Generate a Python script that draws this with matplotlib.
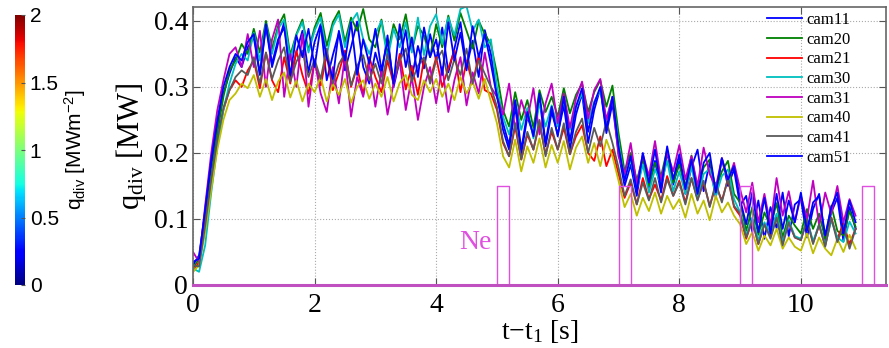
import matplotlib
matplotlib.use("Agg")
import matplotlib.pyplot as plt
import numpy as np
from matplotlib import cm
from matplotlib.colors import Normalize
from matplotlib.colorbar import ColorbarBase

plt.rcParams["font.family"] = ["Liberation Serif", "DejaVu Serif"]
plt.rcParams["mathtext.default"] = "regular"

SERIF = ["Liberation Serif", "DejaVu Serif"]
SANS = ["Liberation Sans", "DejaVu Sans"]

# time base of the divertor power traces [s]
t_s = np.round(np.arange(0, 110) * 0.1, 2)

# q_div per camera, in kW (one value per 0.1 s)
cam11 = [30, 45, 110, 180, 240, 290, 320, 345, 330, 360,
         375, 318, 392, 330, 366, 398, 312, 352, 385, 322,
         368, 395, 310, 348, 382, 325, 360, 399, 330, 305,
         352, 318, 378, 300, 340, 386, 314, 362, 328, 380,
         340, 390, 322, 358, 398, 330, 370, 315, 386, 350,
         290, 235, 205, 270, 198, 255, 228, 282, 210, 262,
         228, 272, 205, 258, 290, 215, 265, 298, 230, 275,
         200, 150, 182, 135, 195, 148, 188, 140, 202, 152,
         190, 138, 178, 205, 142, 186, 132, 192, 150, 175,
         120, 135, 80, 128, 70, 118, 86, 140, 74, 122,
         130, 72, 115, 138, 68, 110, 132, 66, 118, 85]
cam20 = [25, 40, 95, 165, 230, 285, 325, 340, 365, 350,
         388, 352, 400, 358, 392, 410, 348, 380, 402, 355,
         390, 412, 362, 398, 415, 368, 405, 385, 418, 372,
         360, 402, 350, 395, 372, 410, 355, 392, 378, 345,
         395, 360, 408, 370, 412, 385, 358, 400, 380, 365,
         320, 265, 240, 292, 250, 280, 238, 295, 262, 285,
         255, 298, 260, 288, 305, 262, 292, 310, 270, 302,
         230, 172, 200, 158, 192, 150, 185, 165, 205, 155,
         182, 150, 196, 142, 178, 190, 145, 172, 188, 138,
         125, 82, 118, 76, 110, 88, 124, 72, 105, 90,
         78, 115, 85, 108, 70, 120, 82, 75, 112, 88]
cam21 = [20, 35, 90, 155, 215, 265, 295, 310, 300, 325,
         340, 298, 352, 310, 292, 345, 305, 355, 318, 290,
         338, 302, 348, 295, 322, 355, 300, 330, 288, 345,
         315, 292, 340, 305, 350, 296, 332, 288, 342, 310,
         345, 300, 328, 355, 292, 340, 305, 348, 295, 290,
         265, 215, 195, 240, 190, 228, 205, 245, 198, 232,
         205, 238, 198, 225, 242, 200, 188, 225, 180, 205,
         168, 132, 155, 122, 162, 130, 152, 128, 165, 135,
         158, 125, 162, 130, 155, 120, 150, 128, 160, 118,
         105, 70, 98, 62, 92, 74, 102, 66, 95, 72,
         68, 98, 64, 90, 60, 102, 70, 94, 62, 85]
cam30 = [25, 20, 60, 140, 210, 265, 305, 335, 350, 340,
         382, 340, 395, 350, 388, 402, 342, 378, 398, 352,
         385, 405, 348, 392, 410, 360, 398, 412, 372, 350,
         380, 400, 342, 388, 360, 398, 352, 405, 348, 392,
         410, 365, 405, 378, 418, 422, 385, 402, 360, 372,
         300, 255, 228, 278, 235, 268, 222, 275, 240, 272,
         240, 280, 235, 270, 290, 245, 278, 295, 250, 285,
         215, 160, 190, 145, 182, 140, 175, 152, 188, 142,
         172, 138, 180, 132, 168, 176, 135, 165, 175, 130,
         110, 75, 102, 68, 95, 78, 108, 64, 98, 74,
         70, 100, 66, 92, 60, 98, 72, 65, 96, 78]
cam31 = [50, 35, 120, 200, 265, 310, 350, 360, 330, 380,
         330, 385, 300, 372, 402, 285, 350, 300, 380, 270,
         340, 290, 262, 330, 275, 348, 255, 315, 285, 335,
         270, 325, 258, 305, 340, 265, 315, 250, 300, 330,
         275, 330, 262, 310, 345, 272, 322, 290, 352, 300,
         285, 258, 305, 235, 280, 250, 298, 228, 275, 305,
         245, 290, 238, 282, 308, 252, 295, 312, 250, 285,
         195, 168, 215, 152, 198, 165, 218, 158, 200, 172,
         212, 160, 195, 150, 208, 168, 148, 192, 158, 185,
         145, 110, 155, 95, 138, 90, 162, 105, 142, 95,
         135, 100, 158, 90, 140, 108, 150, 95, 130, 105]
cam40 = [20, 30, 80, 145, 205, 250, 280, 290, 305, 298,
         318, 285, 312, 280, 308, 322, 284, 310, 278, 305,
         292, 315, 278, 305, 288, 312, 276, 300, 310, 282,
         305, 285, 315, 278, 306, 318, 288, 280, 310, 292,
         312, 285, 305, 280, 315, 290, 308, 282, 312, 278,
         245, 195, 178, 220, 172, 210, 185, 222, 178, 212,
         185, 218, 175, 208, 225, 185, 215, 180, 220, 195,
         158, 118, 138, 105, 132, 112, 140, 108, 135, 115,
         130, 102, 138, 108, 128, 98, 135, 110, 125, 105,
         92, 62, 80, 52, 75, 60, 85, 55, 72, 58,
         52, 78, 48, 72, 55, 45, 70, 50, 76, 55]
cam41 = [30, 28, 90, 160, 220, 268, 295, 315, 325, 318,
         345, 305, 352, 312, 340, 360, 308, 338, 355, 315,
         342, 312, 358, 305, 335, 350, 302, 332, 348, 310,
         335, 305, 350, 312, 340, 358, 308, 332, 345, 305,
         340, 355, 310, 342, 318, 358, 305, 340, 320, 300,
         270, 218, 195, 245, 190, 232, 205, 250, 195, 238,
         205, 245, 198, 232, 252, 200, 238, 210, 248, 215,
         178, 135, 160, 122, 155, 128, 162, 125, 160, 135,
         155, 122, 162, 128, 158, 118, 155, 125, 162, 120,
         108, 72, 98, 62, 92, 70, 102, 60, 95, 72,
         68, 100, 62, 92, 58, 102, 65, 90, 55, 85]
cam51 = [35, 40, 115, 190, 250, 300, 330, 350, 340, 368,
         380, 320, 395, 335, 372, 390, 318, 378, 345, 388,
         330, 392, 345, 312, 385, 340, 398, 318, 372, 335,
         388, 325, 370, 305, 395, 330, 375, 315, 390, 345,
         372, 318, 398, 340, 382, 325, 392, 345, 380, 335,
         285, 245, 212, 280, 205, 262, 225, 290, 215, 270,
         225, 285, 218, 270, 298, 232, 275, 300, 235, 285,
         210, 158, 195, 142, 200, 155, 205, 145, 210, 160,
         198, 145, 190, 138, 185, 200, 140, 192, 160, 180,
         130, 92, 140, 80, 132, 78, 138, 85, 128, 95,
         140, 82, 125, 135, 75, 118, 140, 78, 128, 95]

cam_names = ["cam11", "cam20", "cam21", "cam30", "cam31", "cam40", "cam41", "cam51"]
cam_data = [cam11, cam20, cam21, cam30, cam31, cam40, cam41, cam51]
cam_colors = ["#0000ff", "#008000", "#ff0000", "#00bfbf",
              "#bf00bf", "#bfbf00", "#5a5a5a", "#0000ff"]

# neon puffs: start times [s], duration [s], plotted height [a.u.]
ne_start = [5.0, 7.0, 9.0, 11.0]
ne_dur = 0.2
ne_height = 0.15
ne_color = "#e050e0"

cbar_ticks = [0, 0.5, 1, 1.5, 2]
cbar_labels = ["0", "0.5", "1", "1.5", "2"]

fig = plt.figure(figsize=(8.89, 3.48), dpi=100)
ax = fig.add_axes([193 / 889, 1 - 285 / 348, 693 / 889, 278 / 348])

for name, vals, col in zip(cam_names, cam_data, cam_colors):
    ax.plot(t_s, np.array(vals) / 1000.0, color=col, lw=1.3, label=name)

# neon valve trace as rectangular pulses on a zero baseline
ne_t = [0.0]
ne_v = [0.0]
for t0 in ne_start:
    ne_t += [t0, t0, t0 + ne_dur, t0 + ne_dur]
    ne_v += [0.0, ne_height, ne_height, 0.0]
ne_t.append(11.4)
ne_v.append(0.0)
ax.plot(ne_t, ne_v, color=ne_color, lw=1.0, zorder=5)
ax.plot([0, 11.4], [0, 0], color="#c050c0", lw=2.2, zorder=6, clip_on=False)
ax.text(4.64, 0.064, "Ne", color=ne_color, fontsize=20, ha="center", va="center",
        family=SERIF)

ax.set_xlim(0, 11.4)
ax.set_ylim(0, 0.421)
ax.set_xticks([0, 2, 4, 6, 8, 10])
ax.set_xticklabels(["0", "2", "4", "6", "8", "10"])
ax.set_yticks([0, 0.1, 0.2, 0.3, 0.4])
ax.set_yticklabels(["0", "0.1", "0.2", "0.3", "0.4"])
ax.tick_params(direction="in", length=5, labelsize=20, top=True, right=True,
               colors="#555555", labelcolor="black")
ax.tick_params(axis="x", pad=6)
for lab in ax.get_xticklabels() + ax.get_yticklabels():
    lab.set_family(SERIF)
ax.grid(True, linestyle=":", color="#aaaaaa", lw=0.8)
for sp in ax.spines.values():
    sp.set_color("#666666")
    sp.set_linewidth(1.2)

ax.set_xlabel("t$-$t$_1$ [s]", fontsize=20, labelpad=0, family=SERIF)
ax.set_ylabel("q$_{div}$ [MW]", fontsize=22, labelpad=4, family=SERIF)

ax.legend(loc="upper left", bbox_to_anchor=(0.828, 0.982), frameon=False,
          prop={"family": SERIF, "size": 12}, handlelength=2.1, handletextpad=0.3,
          labelspacing=0.22, borderpad=0, borderaxespad=0)

# colour scale for q_div
cax = fig.add_axes([15 / 889, 1 - 285 / 348, 10 / 889, 270 / 348])
cb = ColorbarBase(cax, cmap=cm.jet, norm=Normalize(0, 2), ticks=cbar_ticks)
cb.set_ticklabels(cbar_labels)
cb.outline.set_visible(False)
cb.ax.tick_params(labelsize=15, length=3, direction="in", colors="#555555", labelcolor="black")
for lab in cb.ax.get_yticklabels():
    lab.set_family(SANS)
cb.set_label("q$_{div}$ [MWm$^{-2}$]", fontsize=15, family=SANS, labelpad=2)

fig.savefig("out.png", dpi=100)
